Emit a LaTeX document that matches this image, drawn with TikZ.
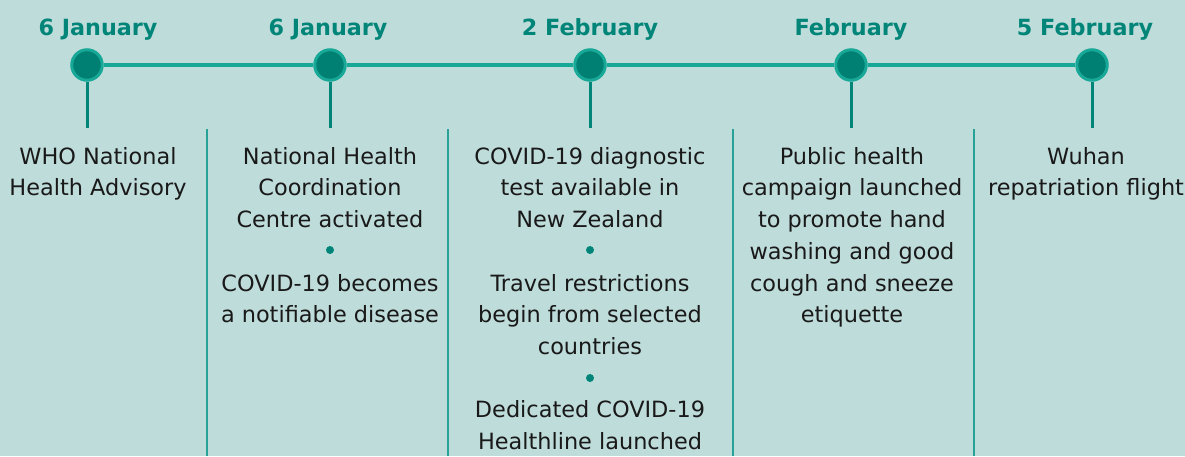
\documentclass[tikz,border=0pt]{standalone}
\usepackage{fontspec}
\setmainfont{DejaVu Sans}
\definecolor{bg}{RGB}{190,220,218}
\definecolor{tealtext}{RGB}{0,133,120}
\definecolor{dotfill}{RGB}{0,128,114}
\definecolor{ring}{RGB}{24,168,152}
\definecolor{divcol}{RGB}{40,162,150}
\definecolor{txt}{RGB}{25,25,25}
\newcommand{\gapline}{\phantom{•}}
\begin{document}
\begin{tikzpicture}[x=1pt,y=-1pt,
  datelabel/.style={font=\fontsize{22.3}{26}\selectfont\bfseries, text=tealtext, anchor=base, inner sep=0pt},
  evtext/.style={font=\fontsize{22.4}{31.7}\selectfont, text=txt, align=center, anchor=north, inner sep=0pt},
  milestone/.style={circle, draw=ring, fill=dotfill, line width=3pt, minimum size=30.5pt, inner sep=0pt},
  bulletdot/.style={circle, fill=tealtext, minimum size=8pt, inner sep=0pt},
  stem/.style={draw=tealtext, line width=3pt},
  track/.style={draw=ring, line width=3.2pt},
  divider/.style={draw=divcol, line width=1.2pt}]
\fill[bg] (0,0) rectangle (1185,456);
\useasboundingbox (0,0) rectangle (1185,456);
% milestones
\node[milestone] (m1) at (87,65) {};
\node[milestone] (m2) at (330,65) {};
\node[milestone] (m3) at (590,65) {};
\node[milestone] (m4) at (851,65) {};
\node[milestone] (m5) at (1092,65) {};
\draw[track] (m1) -- (m2) (m2) -- (m3) (m3) -- (m4) (m4) -- (m5);
% stems
\coordinate (s1) at (87,128);
\coordinate (s2) at (330,128);
\coordinate (s3) at (590,128);
\coordinate (s4) at (851,128);
\coordinate (s5) at (1092,128);
\draw[stem] (m1) -- (s1);
\draw[stem] (m2) -- (s2);
\draw[stem] (m3) -- (s3);
\draw[stem] (m4) -- (s4);
\draw[stem] (m5) -- (s5);
% dividers
\coordinate (d1t) at (207,129); \coordinate (d1b) at (207,456);
\coordinate (d2t) at (448,129); \coordinate (d2b) at (448,456);
\coordinate (d3t) at (733,129); \coordinate (d3b) at (733,456);
\coordinate (d4t) at (974,129); \coordinate (d4b) at (974,456);
\draw[divider] (d1t) -- (d1b);
\draw[divider] (d2t) -- (d2b);
\draw[divider] (d3t) -- (d3b);
\draw[divider] (d4t) -- (d4b);
% dates
\node[datelabel] (t1) at (98,35) {6 January};
\node[datelabel] (t2) at (328,35) {6 January};
\node[datelabel] (t3) at (590,35) {2 February};
\node[datelabel] (t4) at (851,35) {February};
\node[datelabel] (t5) at (1085,35) {5 February};
% events
\node[evtext] (e1) at (98,147) {WHO National\\Health Advisory};
\node[evtext] (e2) at (330,147) {National Health\\Coordination\\Centre activated\\\gapline\\COVID-19 becomes\\a notifiable disease};
\node[evtext] (e3) at (590,147) {COVID-19 diagnostic\\test available in\\New Zealand\\\gapline\\Travel restrictions\\begin from selected\\countries\\\gapline\\Dedicated COVID-19\\Healthline launched};
\node[evtext] (e4) at (852,147) {Public health\\campaign launched\\to promote hand\\washing and good\\cough and sneeze\\etiquette};
\node[evtext] (e5) at (1086,147) {Wuhan\\repatriation flight};
% bullets
\node[bulletdot] (b1) at (330,250) {};
\node[bulletdot] (b2) at (590,250) {};
\node[bulletdot] (b3) at (590,378) {};
\end{tikzpicture}
\end{document}
